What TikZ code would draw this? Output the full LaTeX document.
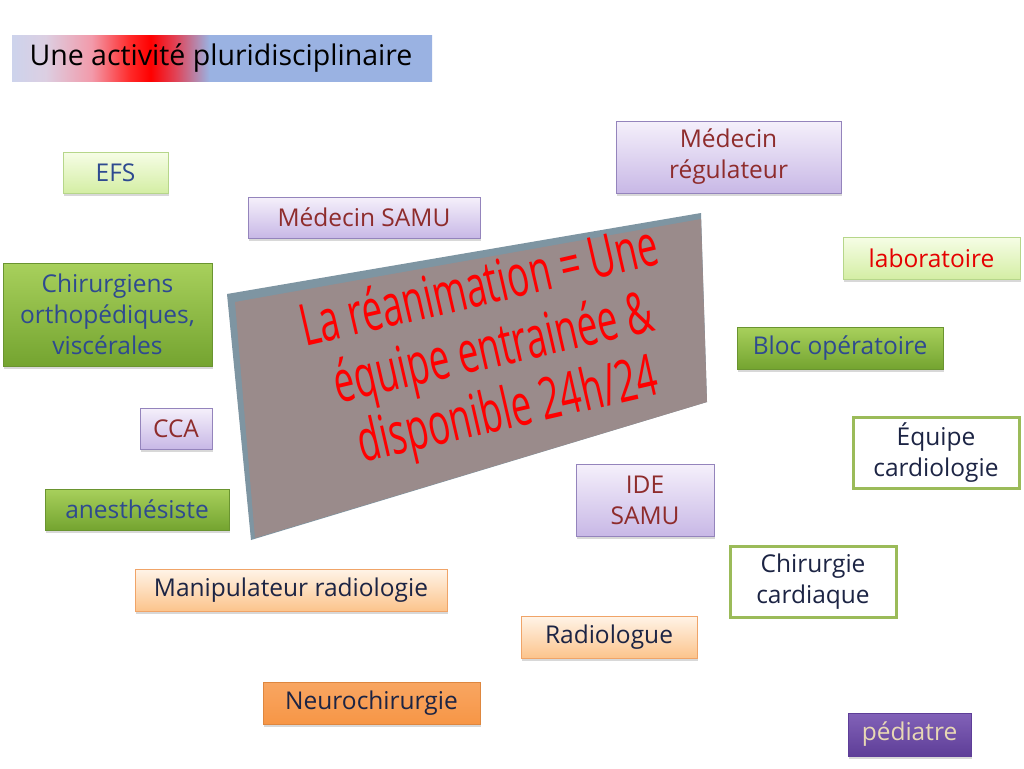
\documentclass[tikz,border=0pt]{standalone}
\usepackage{fontspec}
\setmainfont{Open Sans}
\usetikzlibrary{shadows}
\definecolor{lavT}{HTML}{F5F0FB}
\definecolor{lavB}{HTML}{C8B8E6}
\definecolor{lavD}{HTML}{9484BC}
\definecolor{lavTx}{HTML}{8E2C2C}
\definecolor{lgT}{HTML}{F6FDE6}
\definecolor{lgB}{HTML}{D4EEA4}
\definecolor{lgD}{HTML}{B6D68A}
\definecolor{mgT}{HTML}{A8D05C}
\definecolor{mgB}{HTML}{74A430}
\definecolor{mgD}{HTML}{6A9430}
\definecolor{blTx}{HTML}{2E4A90}
\definecolor{pcT}{HTML}{FFF4E8}
\definecolor{pcB}{HTML}{FCC48C}
\definecolor{pcD}{HTML}{F0A468}
\definecolor{orF}{HTML}{F79646}
\definecolor{navTx}{HTML}{1C2444}
\definecolor{grBd}{HTML}{9BBB59}
\definecolor{puT}{HTML}{8262B8}
\definecolor{puB}{HTML}{5E3E98}
\definecolor{puTx}{HTML}{E8D8B4}
\definecolor{edgeC}{HTML}{7E95A2}
\definecolor{faceC}{HTML}{9A8B8B}
\definecolor{tA}{HTML}{CDD3EC}
\definecolor{tB}{HTML}{DCCFE2}
\definecolor{tC}{HTML}{F29AAA}
\definecolor{tD}{HTML}{FF2A2A}
\definecolor{tE}{HTML}{FF0000}
\definecolor{tF}{HTML}{E04458}
\definecolor{tG}{HTML}{9AB2E2}
\pgfdeclarehorizontalshading{titleshade}{100bp}{color(0bp)=(tA); color(25bp)=(tA); color(29bp)=(tB); color(34.5bp)=(tC); color(39bp)=(tD); color(41.5bp)=(tE); color(44.5bp)=(tF); color(48.5bp)=(tG); color(75bp)=(tG); color(100bp)=(tG)}
\tikzset{
  box/.style={rectangle, inner sep=0pt, align=center, font=\fontsize{24.5}{31}\selectfont,
    drop shadow={shadow xshift=1pt, shadow yshift=-2.5pt, opacity=0.3}},
  lav/.style={box, draw=lavD, line width=1pt, top color=lavT, bottom color=lavB, text=lavTx},
  lgreen/.style={box, draw=lgD, line width=1pt, top color=lgT, bottom color=lgB, text=blTx},
  mgreen/.style={box, draw=mgD, line width=0.8pt, top color=mgT, bottom color=mgB, text=blTx},
  peach/.style={box, draw=pcD, line width=1pt, top color=pcT, bottom color=pcB, text=navTx},
  orange/.style={box, draw=orF!90!black, line width=0.6pt, top color=orF!85!white, bottom color=orF, text=navTx},
  wgreen/.style={rectangle, inner sep=0pt, align=center, font=\fontsize{24.5}{31}\selectfont,
    draw=grBd, line width=3pt, fill=white, text=navTx},
  purple/.style={box, draw=puB, line width=0.6pt, top color=puT, bottom color=puB, text=puTx},
}
\begin{document}
\begin{tikzpicture}[x=1pt,y=-1pt]
\useasboundingbox[fill=white] (0,0) rectangle (1024,768);
% title
\shade[shading=titleshade] (12,36) rectangle (432,81);
\node[font=\fontsize{28.5}{32}\selectfont, text=black] (title) at (221,58) {Une activité pluridisciplinaire};
% central shape
\fill[edgeC] (227,294) -- (701,213) -- (707,402) -- (251,540) -- cycle;
\fill[faceC] (235,302) -- (701,219) -- (707,402) -- (255,538) -- cycle;
\node[align=center, text=red, font=\fontsize{58}{63}\selectfont, rotate=13, xscale=0.63, inner sep=0pt] (main) at (494,352)
  {La réanimation = Une\\équipe entrainée \&\\disponible 24h/24};
% boxes
\node[lgreen, minimum width=105pt, minimum height=41pt] (efs) at (115.5,172.5) {EFS};
\node[lav, minimum width=232pt, minimum height=41pt] (msamu) at (364,217.5) {Médecin SAMU};
\node[mgreen, minimum width=209pt, minimum height=103pt] (chir) at (107.5,314.5) {Chirurgiens\\orthopédiques,\\viscérales};
\node[lav, minimum width=72pt, minimum height=41pt] (cca) at (176,428.5) {CCA};
\node[mgreen, minimum width=184pt, minimum height=41pt] (anes) at (137,509.5) {anesthésiste};
\node[peach, minimum width=312pt, minimum height=42pt] (manip) at (291,590) {Manipulateur radiologie};
\node[orange, minimum width=217pt, minimum height=42pt] (neuro) at (371.5,703) {Neurochirurgie};
\node[lav, minimum width=225pt, minimum height=72pt] (mreg) at (728.5,157) {Médecin\\régulateur};
\node[lgreen, minimum width=177pt, minimum height=42pt, text=red!90!black] (labo) at (931.5,258) {laboratoire};
\node[mgreen, minimum width=206pt, minimum height=42pt] (bloc) at (840,348) {Bloc opératoire};
\node[wgreen, minimum width=166pt, minimum height=71pt] (equipe) at (936,452.5) {Équipe\\cardiologie};
\node[lav, minimum width=138pt, minimum height=72pt] (ide) at (645,500) {IDE\\SAMU};
\node[wgreen, minimum width=166pt, minimum height=71pt] (chircard) at (813,581.5) {Chirurgie\\cardiaque};
\node[peach, minimum width=176pt, minimum height=42pt] (radio) at (609,637) {Radiologue};
\node[purple, minimum width=123pt, minimum height=43pt] (ped) at (909.5,734.5) {pédiatre};
\end{tikzpicture}
\end{document}
